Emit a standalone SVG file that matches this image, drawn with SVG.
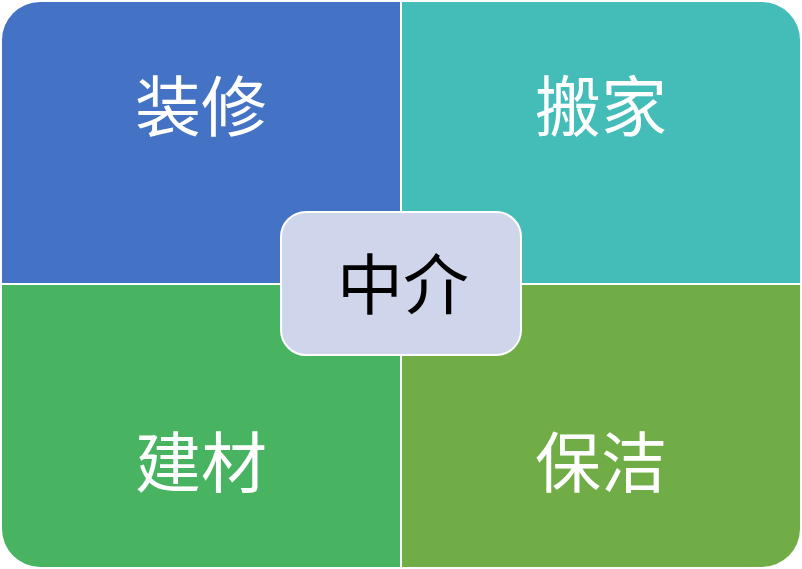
<svg xmlns="http://www.w3.org/2000/svg" width="802" height="569" viewBox="0 0 802 569">
<style>
.q{stroke:none}
.t{font-family:"Noto Sans CJK SC","Noto Sans",sans-serif;font-size:66px;text-anchor:middle;dominant-baseline:central}
.w{fill:#ffffff}
</style>
<rect width="802" height="569" fill="#ffffff"/>
<g id="zhuangxiu">
<path class="q" fill="#4472C4" d="M2,40 A38,38 0 0 1 40,2 L400,2 L400,283 L2,283 Z"/>
<text class="t w" x="201" y="102">装修</text>
</g>
<g id="banjia">
<path class="q" fill="#44BDB8" d="M402,2 L762,2 A38,38 0 0 1 800,40 L800,283 L402,283 Z"/>
<text class="t w" x="601" y="102">搬家</text>
</g>
<g id="jiancai">
<path class="q" fill="#48B462" d="M2,285 L400,285 L400,567 L40,567 A38,38 0 0 1 2,529 Z"/>
<text class="t w" x="201" y="458">建材</text>
</g>
<g id="baojie">
<path class="q" fill="#70AD47" d="M402,285 L800,285 L800,529 A38,38 0 0 1 762,567 L402,567 Z"/>
<text class="t w" x="601" y="458">保洁</text>
</g>
<g id="zhongjie">
<rect x="281" y="212" width="240" height="143" rx="25" ry="25" fill="#CFD5EA" stroke="#ffffff" stroke-width="2"/>
<text class="t" x="403" y="280" fill="#000000">中介</text>
</g>
<g id="connectors"></g>
</svg>
